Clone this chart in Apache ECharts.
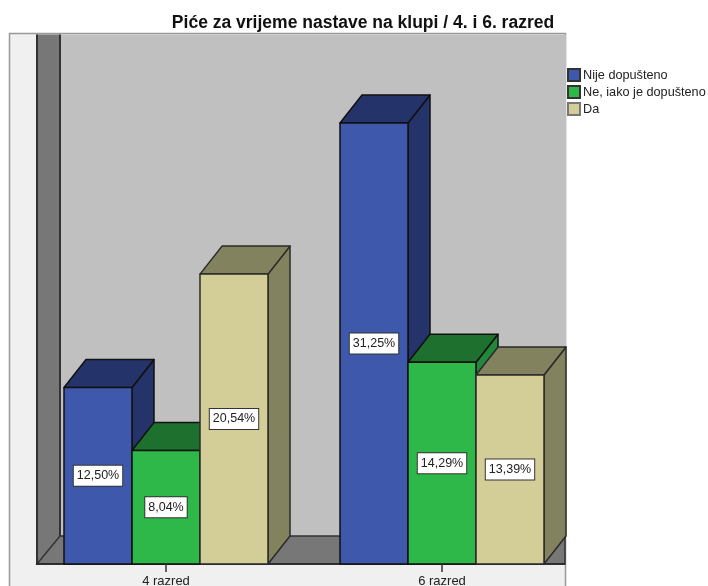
<!DOCTYPE html>
<html>
<head>
<meta charset="utf-8">
<style>
  html, body { margin: 0; padding: 0; background: #fff; }
  #chart { width: 708px; height: 586px; }
</style>
<script src="https://cdn.jsdelivr.net/npm/echarts@6/dist/echarts.min.js"></script>
</head>
<body>
<div id="chart"></div>
<script>
var categories = ['4 razred', '6 razred']
var nijeDopusteno = [12.50, 31.25]
var neIakoDopusteno = [8.04, 14.29]
var da = [20.54, 13.39]
var seriesNames = ['Nije dopušteno', 'Ne, iako je dopušteno', 'Da']

// depth of the fake 3d box, px
var depthX = 22
var depthY = 28

var font = '"Liberation Sans", Arial, sans-serif'

function barSeries(name, values, pos, front, top, side, border, legendBorder) {
  return {
    name: name,
    type: 'custom',
    itemStyle: {color: front, borderColor: legendBorder, borderWidth: 1.5},
    encode: {x: 0, y: 1},
    data: values.map(function (v, i) { return [i, v] }),
    renderItem: function (params, api) {
      var topPt = api.coord([api.value(0), api.value(1)])
      var basePt = api.coord([api.value(0), 0])
      var w = api.size([1, 0])[0] * 68 / 276
      var x0 = topPt[0] + (pos - 0.5) * w
      var x1 = x0 + w
      var y0 = topPt[1]
      var y1 = basePt[1]
      var line = {stroke: border, lineWidth: 1.5, lineJoin: 'round'}
      return {
        type: 'group',
        children: [
          {type: 'polygon', shape: {points: [[x1, y1], [x1 + depthX, y1 - depthY], [x1 + depthX, y0 - depthY], [x1, y0]]},
            style: Object.assign({fill: side}, line)},
          {type: 'polygon', shape: {points: [[x0, y0], [x0 + depthX, y0 - depthY], [x1 + depthX, y0 - depthY], [x1, y0]]},
            style: Object.assign({fill: top}, line)},
          {type: 'rect', shape: {x: x0, y: y0, width: w, height: y1 - y0},
            style: Object.assign({fill: front}, line)},
          {type: 'text', style: {
            x: (x0 + x1) / 2, y: (y0 + y1) / 2,
            text: api.value(1).toFixed(2).replace('.', ',') + '%',
            align: 'center', verticalAlign: 'middle',
            font: '12.5px ' + font, fill: '#222',
            backgroundColor: '#fff', borderColor: '#333', borderWidth: 1,
            padding: [4, 3, 3, 3]
          }, z2: 10}
        ]
      }
    }
  }
}

// walls and floor, behind everything
var walls = [
  {type: 'rect', shape: {x: 9.5, y: 33.5, width: 556, height: 560},
    style: {fill: '#f0f0f0', stroke: '#999', lineWidth: 1.5}},
  {type: 'rect', shape: {x: 60, y: 34.5, width: 506, height: 502},
    style: {fill: '#c0c0c0'}},
  {type: 'polygon', shape: {points: [[37, 34.5], [60, 34.5], [60, 536], [37, 564]]},
    style: {fill: '#777'}},
  {type: 'polygon', shape: {points: [[37, 564], [60, 536], [565, 536], [565, 564]]},
    style: {fill: '#777', stroke: '#333', lineWidth: 1.5}},
  {type: 'line', shape: {x1: 37, y1: 34.5, x2: 37, y2: 564},
    style: {stroke: '#333', lineWidth: 2}},
  {type: 'line', shape: {x1: 60, y1: 34.5, x2: 60, y2: 536},
    style: {stroke: '#333', lineWidth: 2}},
  {type: 'line', shape: {x1: 36, y1: 564, x2: 565, y2: 564},
    style: {stroke: '#222', lineWidth: 1.5}}
]

var chart = echarts.init(document.getElementById('chart'), null, {renderer: 'canvas'})
chart.setOption({
  animation: false,
  backgroundColor: '#fff',
  title: {
    text: 'Piće za vrijeme nastave na klupi / 4. i 6. razred',
    left: 358,
    top: 9,
    textAlign: 'center',
    textStyle: {fontFamily: font, fontSize: 17.5, fontWeight: 'bold', color: '#111'}
  },
  legend: {
    orient: 'vertical',
    left: 567,
    top: 68,
    padding: 0,
    itemWidth: 12,
    itemHeight: 12,
    itemGap: 3,
    align: 'left',
    icon: 'rect',
    data: seriesNames,
    textStyle: {fontFamily: font, fontSize: 12.7, lineHeight: 14, color: '#222', padding: [0, 0, 0, -2]}
  },
  grid: {left: 28, width: 552, top: 70, height: 494, outerBoundsMode: 'none'},
  xAxis: {
    type: 'category',
    data: categories,
    axisLine: {show: false},
    axisTick: {show: true, alignWithLabel: true, length: 8, lineStyle: {color: '#333', width: 1.5}},
    axisLabel: {show: true, margin: 11, fontFamily: font, fontSize: 13, color: '#222'},
    splitLine: {show: false},
    z: 5
  },
  yAxis: {type: 'value', min: 0, max: 35, show: false, splitLine: {show: false}},
  graphic: walls.map(function (g) { return Object.assign({silent: true, z: -10}, g) }),
  series: [
    barSeries(seriesNames[0], nijeDopusteno, -1, '#3e58ac', '#24346a', '#24346a', '#111', '#333'),
    barSeries(seriesNames[1], neIakoDopusteno, 0, '#2eb84a', '#1e702e', '#22873a', '#111', '#333'),
    barSeries(seriesNames[2], da, 1, '#d3ce97', '#83825f', '#83825f', '#2a2a2a', '#777')
  ]
})
</script>
</body>
</html>
